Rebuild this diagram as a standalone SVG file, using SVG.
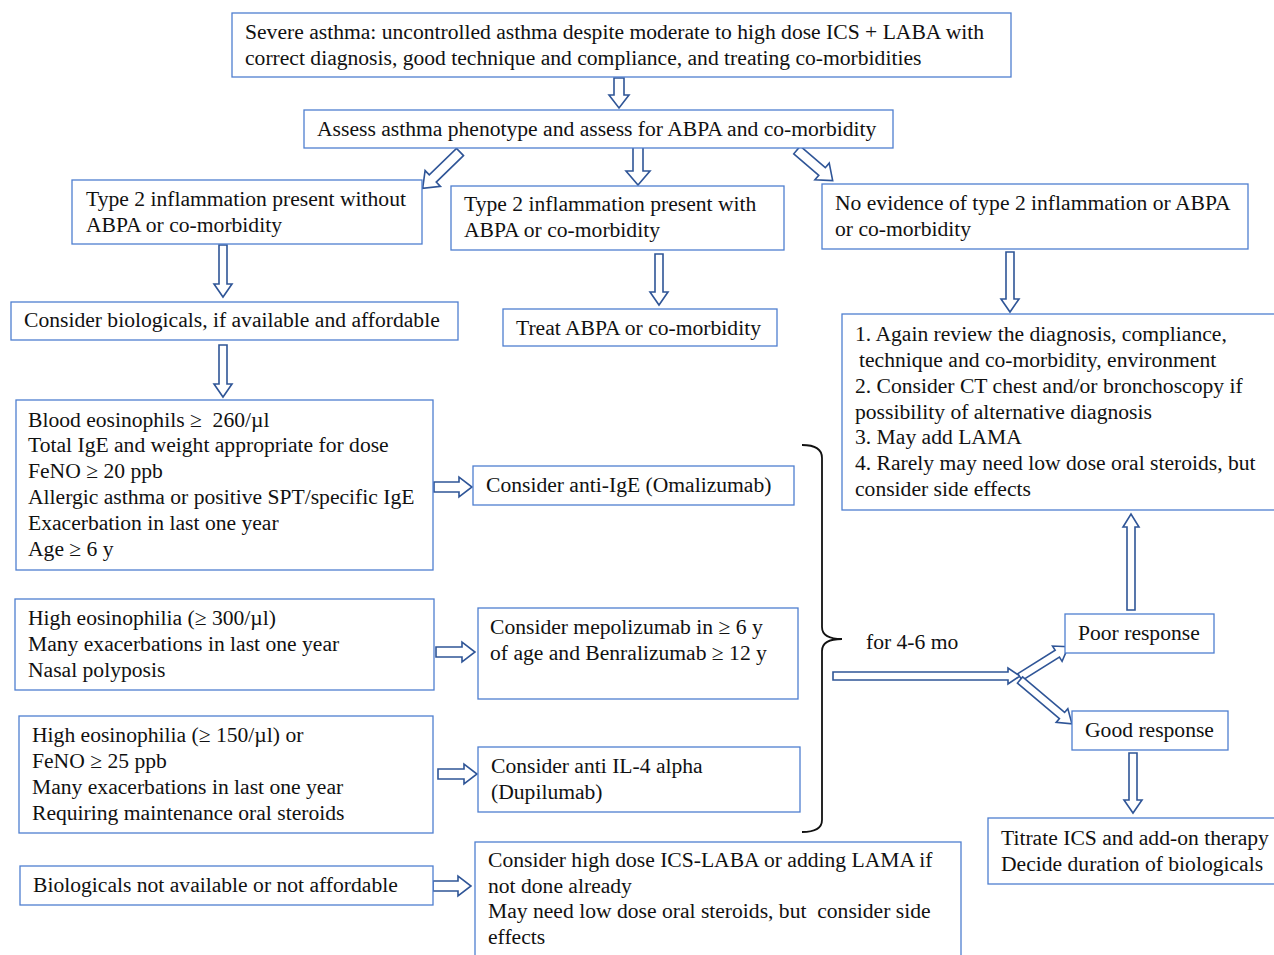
<svg xmlns="http://www.w3.org/2000/svg" width="1274" height="955" viewBox="0 0 1274 955">
<style>
.box{fill:#fff;stroke:#4f7fd0;stroke-width:1.3}
.t{font-family:"Liberation Serif","Times New Roman",serif;font-size:21.6px;fill:#111}
.ar{fill:#fff;stroke:#2f5597;stroke-width:1.6;stroke-linejoin:miter}
.brace{fill:none;stroke:#111;stroke-width:1.8}
</style>
<rect width="1274" height="955" fill="#fff"/>
<g id="connectors">
<polygon class="ar" transform="translate(619,78) rotate(90)" points="0,-5 17,-5 17,-10 30,0 17,10 17,5 0,5"/>
<polygon class="ar" transform="translate(460,152) rotate(135.8)" points="0,-5 38,-5 38,-11 52,0 38,11 38,5 0,5"/>
<polygon class="ar" transform="translate(638,147) rotate(90)" points="0,-5 24,-5 24,-12 38,0 24,12 24,5 0,5"/>
<polygon class="ar" transform="translate(797,150) rotate(40.6)" points="0,-5 33,-5 33,-11 47,0 33,11 33,5 0,5"/>
<polygon class="ar" transform="translate(223,245) rotate(90)" points="0,-4 39,-4 39,-9 52,0 39,9 39,4 0,4"/>
<polygon class="ar" transform="translate(659,254) rotate(90)" points="0,-4 38,-4 38,-9 51,0 38,9 38,4 0,4"/>
<polygon class="ar" transform="translate(1010,252) rotate(90)" points="0,-4 47,-4 47,-9 60,0 47,9 47,4 0,4"/>
<polygon class="ar" transform="translate(223,345) rotate(90)" points="0,-4 39,-4 39,-9 52,0 39,9 39,4 0,4"/>
<polygon class="ar" transform="translate(434,487)" points="0,-5 25,-5 25,-10 38,0 25,10 25,5 0,5"/>
<polygon class="ar" transform="translate(436,652)" points="0,-5 26,-5 26,-10 39,0 26,10 26,5 0,5"/>
<polygon class="ar" transform="translate(438,774)" points="0,-5 26,-5 26,-10 39,0 26,10 26,5 0,5"/>
<polygon class="ar" transform="translate(433,886)" points="0,-5 25,-5 25,-10 38,0 25,10 25,5 0,5"/>
<polygon class="ar" transform="translate(833,676)" points="0,-4 175,-4 175,-8 187,0 175,8 175,4 0,4"/>
<polygon class="ar" transform="translate(1020,677) rotate(-32)" points="0,-4 44,-4 44,-9 57,0 44,9 44,4 0,4"/>
<polygon class="ar" transform="translate(1020,680) rotate(40.2)" points="0,-4 55,-4 55,-9 68,0 55,9 55,4 0,4"/>
<polygon class="ar" transform="translate(1131,610) rotate(-90)" points="0,-4 83,-4 83,-8 96,0 83,8 83,4 0,4"/>
<polygon class="ar" transform="translate(1133,753) rotate(90)" points="0,-4 47,-4 47,-9 60,0 47,9 47,4 0,4"/>
<path class="brace" d="M802,445 Q822,445 822,458 L822,627 Q822,639 842,639 Q822,639 822,651 L822,820 Q822,832 802,832"/>
</g>
<g id="n1"><rect class="box" x="232" y="13" width="779" height="64"/>
<text class="t" x="245" y="39">Severe asthma: uncontrolled asthma despite moderate to high dose ICS + LABA with</text>
<text class="t" x="245" y="65">correct diagnosis, good technique and compliance, and treating co-morbidities</text></g>
<g id="n2"><rect class="box" x="304" y="110" width="589" height="38"/>
<text class="t" x="317" y="136">Assess asthma phenotype and assess for ABPA and co-morbidity</text></g>
<g id="n3"><rect class="box" x="72" y="180" width="350" height="64"/>
<text class="t" x="86" y="206">Type 2 inflammation present without</text>
<text class="t" x="86" y="232">ABPA or co-morbidity</text></g>
<g id="n4"><rect class="box" x="451" y="186" width="333" height="64"/>
<text class="t" x="464" y="211">Type 2 inflammation present with</text>
<text class="t" x="464" y="237">ABPA or co-morbidity</text></g>
<g id="n5"><rect class="box" x="822" y="184" width="426" height="65"/>
<text class="t" x="835" y="210">No evidence of type 2 inflammation or ABPA</text>
<text class="t" x="835" y="236">or co-morbidity</text></g>
<g id="n6"><rect class="box" x="11" y="302" width="447" height="38"/>
<text class="t" x="24" y="327">Consider biologicals, if available and affordable</text></g>
<g id="n7"><rect class="box" x="503" y="309" width="274" height="37"/>
<text class="t" x="516" y="335">Treat ABPA or co-morbidity</text></g>
<g id="n8"><rect class="box" x="842" y="314" width="440" height="196"/>
<text class="t" x="855" y="341">1. Again review the diagnosis, compliance,</text>
<text class="t" x="859" y="367">technique and co-morbidity, environment</text>
<text class="t" x="855" y="393">2. Consider CT chest and/or bronchoscopy if</text>
<text class="t" x="855" y="419">possibility of alternative diagnosis</text>
<text class="t" x="855" y="444">3. May add LAMA</text>
<text class="t" x="855" y="470">4. Rarely may need low dose oral steroids, but</text>
<text class="t" x="855" y="496">consider side effects</text></g>
<g id="n9"><rect class="box" x="16" y="400" width="417" height="170"/>
<text class="t" x="28" y="427" xml:space="preserve">Blood eosinophils ≥  260/µl</text>
<text class="t" x="28" y="452">Total IgE and weight appropriate for dose</text>
<text class="t" x="28" y="478">FeNO ≥ 20 ppb</text>
<text class="t" x="28" y="504">Allergic asthma or positive SPT/specific IgE</text>
<text class="t" x="28" y="530">Exacerbation in last one year</text>
<text class="t" x="28" y="556">Age ≥ 6 y</text></g>
<g id="n10"><rect class="box" x="473" y="466" width="321" height="39"/>
<text class="t" x="486" y="492">Consider anti-IgE (Omalizumab)</text></g>
<g id="n11"><rect class="box" x="15" y="599" width="419" height="91"/>
<text class="t" x="28" y="625">High eosinophilia (≥ 300/µl)</text>
<text class="t" x="28" y="651">Many exacerbations in last one year</text>
<text class="t" x="28" y="677">Nasal polyposis</text></g>
<g id="n12"><rect class="box" x="478" y="608" width="320" height="91"/>
<text class="t" x="490" y="634">Consider mepolizumab in ≥ 6 y</text>
<text class="t" x="490" y="660">of age and Benralizumab ≥ 12 y</text></g>
<g id="n13"><rect class="box" x="19" y="716" width="414" height="117"/>
<text class="t" x="32" y="742">High eosinophilia (≥ 150/µl) or</text>
<text class="t" x="32" y="768">FeNO ≥ 25 ppb</text>
<text class="t" x="32" y="794">Many exacerbations in last one year</text>
<text class="t" x="32" y="820">Requiring maintenance oral steroids</text></g>
<g id="n14"><rect class="box" x="478" y="747" width="322" height="65"/>
<text class="t" x="491" y="773">Consider anti IL-4 alpha</text>
<text class="t" x="491" y="799">(Dupilumab)</text></g>
<g id="n15"><rect class="box" x="20" y="866" width="413" height="39"/>
<text class="t" x="33" y="892">Biologicals not available or not affordable</text></g>
<g id="n16"><rect class="box" x="475" y="842" width="486" height="120"/>
<text class="t" x="488" y="867">Consider high dose ICS-LABA or adding LAMA if</text>
<text class="t" x="488" y="893">not done already</text>
<text class="t" x="488" y="918" xml:space="preserve">May need low dose oral steroids, but  consider side</text>
<text class="t" x="488" y="944">effects</text></g>
<g id="n17"><text class="t" x="866" y="649">for 4-6 mo</text></g>
<g id="n18"><rect class="box" x="1065" y="614" width="149" height="39"/>
<text class="t" x="1078" y="640">Poor response</text></g>
<g id="n19"><rect class="box" x="1072" y="711" width="156" height="39"/>
<text class="t" x="1085" y="737">Good response</text></g>
<g id="n20"><rect class="box" x="988" y="818" width="292" height="66"/>
<text class="t" x="1001" y="845">Titrate ICS and add-on therapy</text>
<text class="t" x="1001" y="871">Decide duration of biologicals</text></g>
</svg>
